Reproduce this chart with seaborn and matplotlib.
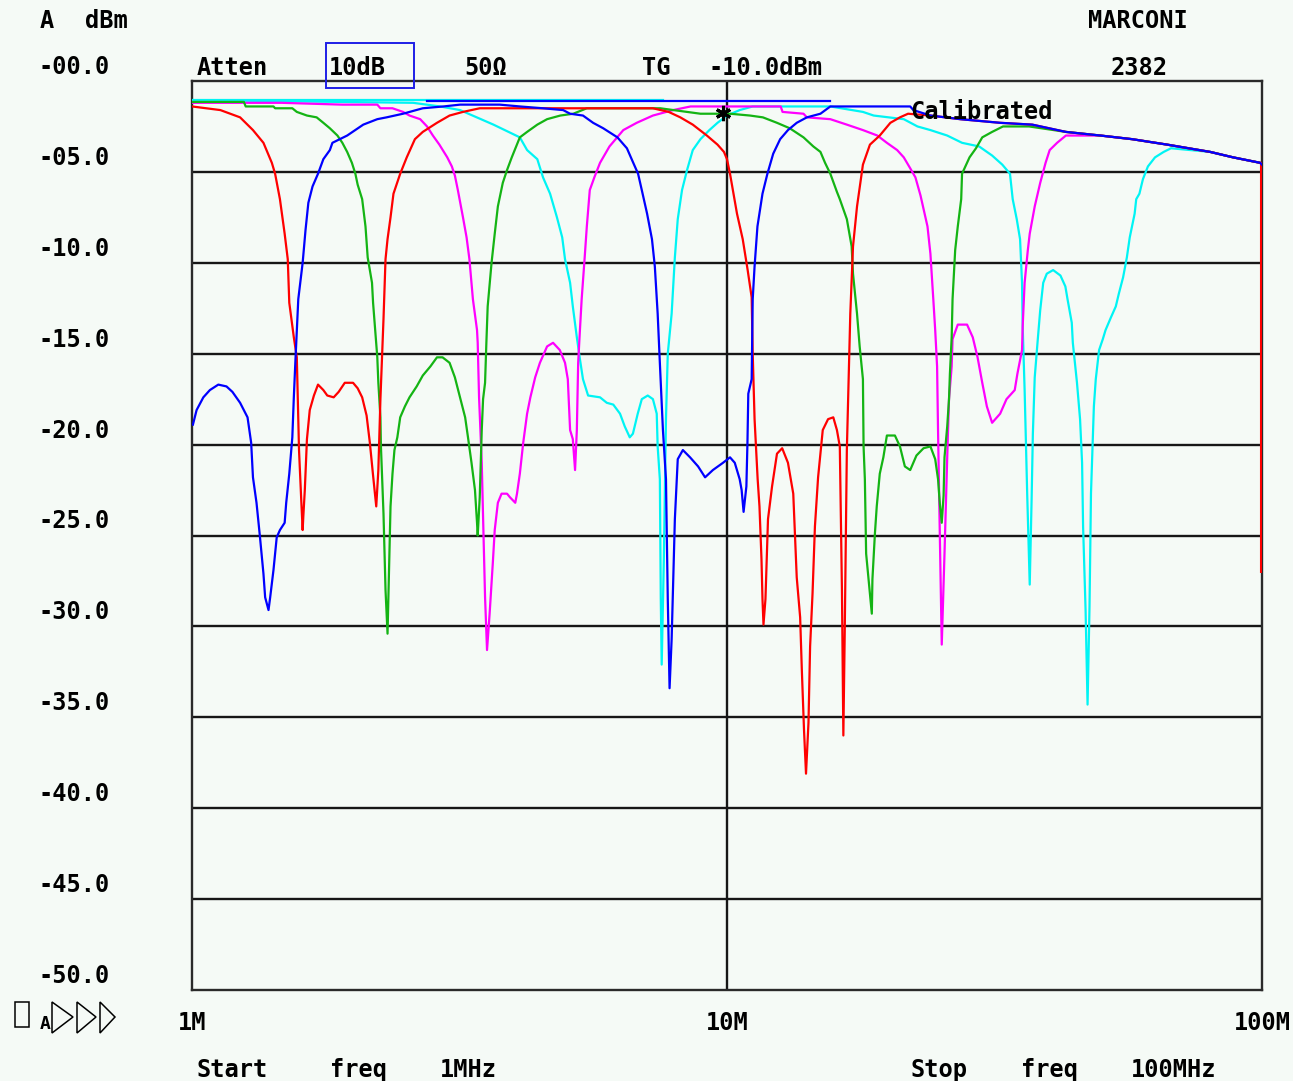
import matplotlib
matplotlib.use("Agg")
import matplotlib.pyplot as plt
from matplotlib import transforms
from matplotlib.patches import Rectangle, Polygon
from matplotlib.ticker import NullLocator
import pandas as pd
import seaborn as sns

W, H = 1293, 1081
BG = "#f5faf6"
INK = "#161616"

# ---------------------------------------------------------------- data
# Frequencies in MHz, levels in dBm (tracking generator at -10 dBm, normalised)

# common high-frequency roll-off of the passband
rolloff_points = [(24.0, -1.9), (27.3, -2.1), (32.4, -2.3), (37.2, -2.4), (43.0, -2.8),
                  (49.9, -3.0), (57.2, -3.2), (66.5, -3.5), (80.0, -3.9), (88.3, -4.2),
                  (99.2, -4.5)]

red_points = [
    (1.00, -1.4), (1.13, -1.6), (1.23, -2.0), (1.30, -2.7), (1.36, -3.4), (1.41, -4.5),
    (1.43, -5.1), (1.46, -6.5), (1.49, -8.4), (1.51, -9.8), (1.52, -12.2), (1.55, -14.1),
    (1.57, -15.2), (1.585, -20.3), (1.60, -23.0), (1.61, -24.7), (1.615, -23.9),
    (1.625, -22.5), (1.64, -19.7), (1.66, -18.1), (1.69, -17.3), (1.72, -16.7),
    (1.76, -17.0), (1.79, -17.3), (1.84, -17.4), (1.88, -17.1), (1.93, -16.6),
    (2.00, -16.6), (2.04, -16.9), (2.08, -17.4), (2.12, -18.4), (2.15, -19.9),
    (2.18, -21.7), (2.21, -23.4), (2.23, -21.4), (2.25, -17.5), (2.28, -13.1),
    (2.30, -9.8), (2.32, -8.7), (2.35, -7.5), (2.38, -6.2), (2.45, -5.1), (2.52, -4.2),
    (2.61, -3.2), (2.70, -2.8), (2.87, -2.3), (3.03, -1.9), (3.21, -1.7), (3.45, -1.5),
    (4.10, -1.5), (5.79, -1.5), (7.27, -1.5), (7.78, -1.7), (8.18, -2.0), (8.63, -2.4),
    (9.17, -3.0), (9.60, -3.5), (9.87, -3.9), (10.0, -4.3), (10.13, -5.1), (10.44, -7.3),
    (10.7, -8.7), (10.93, -10.4), (11.12, -11.9), (11.17, -15.0), (11.26, -18.6),
    (11.41, -21.9), (11.50, -23.4), (11.6, -26.3), (11.65, -28.5), (11.7, -29.9),
    (11.8, -28.5), (11.93, -24.1), (12.14, -22.3), (12.4, -20.5), (12.68, -20.2),
    (13.0, -21.0), (13.3, -22.7), (13.5, -27.3), (13.7, -29.5), (13.8, -32.4),
    (13.93, -35.7), (14.05, -38.1), (14.2, -35.3), (14.3, -31.1), (14.45, -28.2),
    (14.6, -24.5), (14.8, -21.8), (15.1, -19.2), (15.45, -18.6), (15.8, -18.5),
    (16.05, -19.2), (16.25, -20.1), (16.4, -28.0), (16.5, -36.0), (16.6, -30.2),
    (16.75, -20.3), (17.0, -12.8), (17.2, -9.1), (17.5, -6.9), (17.95, -4.6),
    (18.5, -3.5), (19.3, -3.0), (20.2, -2.3), (21.05, -2.0), (21.8, -1.8)]
red_tail = [(99.6, -4.5), (99.6, -27.0)]

blue_points = [
    (1.004, -18.9), (1.02, -18.1), (1.05, -17.4), (1.08, -17.0), (1.12, -16.7),
    (1.16, -16.8), (1.19, -17.1), (1.23, -17.7), (1.27, -18.5), (1.29, -19.9),
    (1.30, -21.8), (1.32, -23.2), (1.34, -25.1), (1.36, -27.1), (1.37, -28.4),
    (1.39, -29.1), (1.40, -28.4), (1.42, -26.9), (1.44, -25.1), (1.46, -24.7),
    (1.49, -24.3), (1.50, -23.2), (1.52, -21.6), (1.54, -19.6), (1.55, -17.4),
    (1.56, -15.5), (1.58, -12.0), (1.61, -10.0), (1.63, -8.2), (1.65, -6.7), (1.68, -5.8),
    (1.72, -5.1), (1.76, -4.3), (1.81, -3.8), (1.83, -3.4), (1.95, -3.0), (2.09, -2.4),
    (2.22, -2.1), (2.31, -2.0), (2.48, -1.8), (2.70, -1.5), (2.95, -1.4), (3.17, -1.3),
    (3.76, -1.3), (4.10, -1.4), (4.53, -1.5), (4.94, -1.6), (5.09, -1.8), (5.38, -1.9),
    (5.62, -2.3), (5.87, -2.6), (6.24, -3.1), (6.50, -3.7), (6.68, -4.5), (6.82, -5.1),
    (6.93, -6.0), (7.09, -7.3), (7.24, -8.7), (7.33, -10.2), (7.42, -12.8), (7.49, -15.5),
    (7.59, -19.2), (7.69, -21.9), (7.75, -28.5), (7.81, -33.4), (7.88, -30.7),
    (7.99, -24.1), (8.09, -20.8), (8.27, -20.3), (8.53, -20.7), (8.83, -21.2),
    (9.10, -21.8), (9.41, -21.4), (9.83, -21.0), (10.13, -20.7), (10.34, -21.0),
    (10.56, -21.9), (10.65, -22.5), (10.74, -23.7), (10.87, -22.3), (10.92, -19.9),
    (10.96, -17.2), (11.12, -16.4), (11.17, -12.0), (11.26, -10.2), (11.4, -8.0),
    (11.65, -6.2), (11.9, -5.1), (12.2, -4.0), (12.57, -3.2), (13.0, -2.7), (13.5, -2.3),
    (14.1, -2.0), (14.95, -1.8), (15.6, -1.4), (22.0, -1.4), (22.3, -1.6)]

green_points = [
    (1.00, -1.15), (1.25, -1.15), (1.26, -1.4), (1.42, -1.4), (1.43, -1.5), (1.54, -1.5),
    (1.57, -1.7), (1.64, -1.9), (1.71, -2.0), (1.76, -2.3), (1.81, -2.6), (1.87, -3.0),
    (1.91, -3.4), (1.95, -3.9), (1.99, -4.5), (2.02, -5.1), (2.04, -5.7), (2.08, -6.5),
    (2.11, -8.0), (2.13, -9.7), (2.17, -11.1), (2.18, -12.2), (2.20, -13.7), (2.22, -15.2),
    (2.23, -16.6), (2.25, -18.5), (2.255, -20.1), (2.28, -23.8), (2.30, -28.0),
    (2.32, -30.4), (2.34, -25.8), (2.35, -23.4), (2.37, -21.6), (2.39, -20.3),
    (2.42, -19.6), (2.45, -18.5), (2.50, -17.9), (2.55, -17.4), (2.63, -16.8),
    (2.70, -16.2), (2.79, -15.7), (2.87, -15.2), (2.94, -15.2), (3.03, -15.5),
    (3.10, -16.3), (3.17, -17.4), (3.24, -18.5), (3.28, -19.6), (3.33, -21.0),
    (3.38, -22.5), (3.41, -24.3), (3.42, -25.0), (3.45, -22.9), (3.48, -19.2),
    (3.50, -17.5), (3.53, -16.6), (3.55, -14.4), (3.57, -12.4), (3.63, -10.0),
    (3.68, -8.4), (3.73, -6.9), (3.81, -5.6), (3.88, -4.9), (3.96, -4.2), (4.10, -3.1),
    (4.23, -2.8), (4.42, -2.4), (4.61, -2.1), (4.88, -1.9), (5.16, -1.8), (5.47, -1.5),
    (7.50, -1.5), (8.92, -1.8), (10.13, -1.8), (11.04, -1.9), (11.67, -2.0), (12.4, -2.3),
    (13.1, -2.6), (13.9, -3.1), (14.5, -3.6), (14.95, -3.9), (15.25, -4.5), (15.6, -5.1),
    (16.05, -6.1), (16.25, -6.5), (16.75, -7.6), (17.1, -9.1), (17.2, -10.6),
    (17.5, -12.8), (17.7, -14.6), (17.95, -16.4), (18.0, -20.1), (18.1, -21.9),
    (18.2, -26.0), (18.5, -28.2), (18.65, -29.3), (18.7, -27.4), (18.9, -24.9),
    (19.05, -23.4), (19.3, -21.6), (19.6, -20.7), (19.9, -19.5), (20.6, -19.5),
    (21.05, -20.1), (21.5, -21.2), (22.0, -21.4), (22.6, -20.6), (23.3, -20.2),
    (24.0, -20.1), (24.5, -20.8), (24.8, -21.9), (25.0, -23.3), (25.2, -24.3),
    (25.4, -22.8), (25.5, -20.7), (25.8, -19.0), (26.0, -17.5), (26.1, -16.1),
    (26.3, -14.1), (26.4, -12.0), (26.7, -9.3), (27.0, -8.0), (27.4, -6.5), (27.5, -5.1),
    (28.4, -4.2), (29.2, -3.7), (30.0, -3.1), (31.3, -2.8), (32.8, -2.5), (36.7, -2.5)]

magenta_points = [
    (1.00, -1.2), (1.47, -1.2), (1.91, -1.3), (2.22, -1.3), (2.25, -1.5), (2.37, -1.5),
    (2.48, -1.7), (2.55, -1.9), (2.67, -2.1), (2.75, -2.5), (2.82, -3.0), (2.90, -3.5),
    (3.00, -4.2), (3.06, -4.7), (3.10, -5.2), (3.14, -6.0), (3.21, -7.5), (3.26, -8.6),
    (3.30, -9.8), (3.35, -12.0), (3.41, -13.7), (3.42, -14.4), (3.44, -17.4),
    (3.48, -21.0), (3.50, -24.0), (3.53, -28.4), (3.56, -31.3), (3.60, -29.3),
    (3.65, -26.5), (3.68, -24.7), (3.73, -23.2), (3.79, -22.7), (3.88, -22.7),
    (3.93, -22.9), (4.02, -23.2), (4.05, -22.7), (4.10, -21.6), (4.16, -19.9),
    (4.23, -18.3), (4.29, -17.4), (4.38, -16.3), (4.47, -15.5), (4.61, -14.6),
    (4.73, -14.4), (4.87, -14.8), (4.98, -15.5), (5.04, -16.4), (5.09, -19.2),
    (5.15, -19.7), (5.20, -21.4), (5.24, -19.2), (5.27, -15.5), (5.31, -13.7),
    (5.35, -12.0), (5.42, -9.7), (5.47, -8.0), (5.54, -6.0), (5.65, -5.3), (5.79, -4.5),
    (6.03, -3.6), (6.40, -2.7), (6.78, -2.3), (7.27, -1.9), (7.93, -1.6), (8.55, -1.4),
    (12.6, -1.4), (12.7, -1.7), (13.9, -1.8), (14.1, -2.0), (15.6, -2.1), (16.75, -2.4),
    (17.95, -2.7), (19.1, -3.0), (19.9, -3.4), (20.8, -3.8), (21.4, -4.2), (22.0, -4.8),
    (22.5, -5.3), (23.0, -6.3), (23.7, -8.0), (24.0, -9.5), (24.3, -12.0), (24.5, -13.7),
    (24.7, -15.7), (24.8, -19.2), (25.0, -25.2), (25.2, -31.0), (25.5, -26.0),
    (25.8, -20.7), (26.0, -17.5), (26.3, -15.7), (26.4, -14.2), (27.0, -13.4),
    (28.1, -13.4), (28.8, -14.1), (29.4, -15.2), (30.0, -16.6), (30.6, -17.9),
    (31.3, -18.8), (32.4, -18.3), (33.3, -17.5), (34.5, -17.0), (34.9, -16.1),
    (35.6, -14.8), (35.7, -13.5), (36.0, -11.1), (36.5, -9.3), (36.8, -8.4),
    (37.6, -6.9), (38.5, -5.6), (39.4, -4.5), (40.1, -3.8), (41.4, -3.4), (43.0, -3.0)]

cyan_points = [
    (1.00, -1.05), (2.59, -1.2), (2.91, -1.4), (3.17, -1.6), (3.66, -2.4), (4.10, -3.1),
    (4.23, -3.8), (4.42, -4.3), (4.53, -5.3), (4.67, -6.2), (4.81, -7.5), (4.92, -8.6),
    (4.98, -9.8), (5.09, -11.1), (5.15, -12.4), (5.24, -14.1), (5.31, -15.3),
    (5.38, -16.4), (5.50, -17.3), (5.79, -17.4), (5.96, -17.7), (6.13, -17.8),
    (6.31, -18.3), (6.44, -19.0), (6.58, -19.6), (6.67, -19.4), (6.81, -18.3),
    (6.93, -17.5), (7.11, -17.3), (7.27, -17.5), (7.39, -18.3), (7.42, -20.1),
    (7.49, -21.9), (7.52, -28.5), (7.55, -32.1), (7.62, -26.3), (7.69, -18.6),
    (7.75, -15.0), (7.88, -12.8), (7.99, -9.7), (8.09, -7.6), (8.24, -6.0), (8.42, -4.9),
    (8.63, -3.8), (8.92, -3.2), (9.27, -2.7), (9.60, -2.3), (10.0, -1.9), (10.56, -1.6),
    (11.17, -1.4), (15.6, -1.4), (17.95, -1.7), (18.8, -1.9), (21.4, -2.1), (22.7, -2.5),
    (24.0, -2.7), (25.8, -3.0), (27.5, -3.4), (29.6, -3.6), (31.3, -4.1), (32.7, -4.6),
    (33.8, -5.1), (34.2, -6.5), (34.8, -7.6), (35.3, -8.7), (35.6, -11.1), (35.7, -13.5),
    (36.0, -17.0), (36.4, -22.7), (36.8, -27.7), (37.1, -23.0), (37.3, -19.4),
    (37.6, -16.3), (38.1, -14.2), (38.5, -12.6), (39.0, -11.1), (39.6, -10.6),
    (40.7, -10.4), (42.0, -10.7), (42.9, -11.3), (43.3, -12.0), (44.1, -13.3),
    (44.3, -14.4), (45.1, -16.6), (45.7, -18.6), (46.1, -21.0), (46.3, -24.5),
    (46.8, -29.1), (47.2, -34.3), (47.6, -28.9), (47.9, -22.7), (48.5, -17.9),
    (48.9, -16.4), (49.6, -14.8), (50.4, -14.2), (51.0, -13.7), (52.2, -13.0),
    (53.3, -12.4), (54.0, -11.7), (55.0, -10.8), (55.9, -9.7), (56.6, -8.6),
    (57.8, -7.3), (58.2, -6.5), (59.0, -6.2), (59.9, -5.4), (61.2, -4.7), (63.1, -4.2),
    (65.5, -3.9), (67.6, -3.7)]

# stored reference (through-calibration) lines near the top of the screen
cyan_ref_points = [(1.00, -1.05), (7.60, -1.05)]
blue_ref_points = [(2.75, -1.1), (15.6, -1.1)]

# marker position
marker_freq = [9.83]
marker_level = [-1.75]

grid_levels = [-5, -10, -15, -20, -25, -30, -35, -40, -45]
ylabels = ["-00.0", "-05.0", "-10.0", "-15.0", "-20.0", "-25.0",
           "-30.0", "-35.0", "-40.0", "-45.0", "-50.0"]
ylabel_levels = [0, -5, -10, -15, -20, -25, -30, -35, -40, -45, -50]
xtick_freqs = [1, 10, 100]
xtick_labels = ["1M", "10M", "100M"]

palette = {"cyan": "#00f4f4", "magenta": "#ff00ff", "green": "#14b414",
           "red": "#ff0000", "blue": "#0000ff"}
order = ["cyan", "magenta", "green", "red", "blue"]

# ---------------------------------------------------------------- table
segments = [
    ("cyan", "ref", cyan_ref_points),
    ("blue", "ref", blue_ref_points),
    ("cyan", "main", cyan_points + [p for p in rolloff_points if p[0] >= 80.0] + [(100.0, -4.6)]),
    ("magenta", "main", magenta_points + [p for p in rolloff_points if p[0] >= 49.9] + [(100.0, -4.6)]),
    ("green", "main", green_points + [p for p in rolloff_points if p[0] >= 43.0] + [(100.0, -4.6)]),
    ("red", "main", red_points + rolloff_points + red_tail),
    ("blue", "main", blue_points + rolloff_points + [(100.0, -4.6)]),
]
rows = []
for trace, seg, pts in segments:
    for f, lv in pts:
        rows.append({"trace": trace, "segment": seg, "freq": f, "level": lv})
df = pd.DataFrame(rows)

# ---------------------------------------------------------------- figure
fig = plt.figure(figsize=(W / 100, H / 100), dpi=100, facecolor=BG)
ax = fig.add_axes([192 / W, 1 - 990 / H, 1070 / W, 909 / H])
ax.set_facecolor(BG)

for lv in grid_levels:
    ax.axhline(lv, color=INK, lw=1.7, zorder=1)
ax.axvline(10, color=INK, lw=1.7, zorder=1)

sns.lineplot(data=df, x="freq", y="level", hue="trace", units="segment",
             estimator=None, sort=False, palette=palette, hue_order=order,
             linewidth=1.6, legend=False, ax=ax, zorder=3)

ax.plot(marker_freq, marker_level, linestyle="none", marker=(6, 2, 0),
        markersize=11, markeredgewidth=2.2, color="black", zorder=5)

ax.set_xscale("log")
ax.set_xlim(1, 100)
ax.set_ylim(-50, 0)
ax.set_xticks([])
ax.set_yticks([])
ax.xaxis.set_minor_locator(NullLocator())
ax.yaxis.set_minor_locator(NullLocator())
ax.set_xlabel("")
ax.set_ylabel("")
for sp in ax.spines.values():
    sp.set_color("#2a2a2a")
    sp.set_linewidth(1.7)

FONT = dict(fontfamily="DejaVu Sans Mono", fontweight="bold", fontsize=17, color="black")


def ptext(x, y, s, **kw):
    opts = dict(FONT)
    opts.update(kw)
    fig.text(x / W, 1 - y / H, s, ha=opts.pop("ha", "left"), va="baseline", **opts)


# level scale labels, sitting just above their grid lines
ytrans = transforms.blended_transform_factory(fig.transFigure, ax.transData) + \
    transforms.ScaledTranslation(0, 7 / 100, fig.dpi_scale_trans)
for lv, lab in zip(ylabel_levels, ylabels):
    ax.text(38 / W, lv, lab, transform=ytrans, ha="left", va="baseline", clip_on=False, **FONT)

# frequency labels under the graticule
xtrans = transforms.blended_transform_factory(ax.transData, fig.transFigure)
for f, lab in zip(xtick_freqs, xtick_labels):
    ax.text(f, 1 - 1030 / H, lab, transform=xtrans, ha="center", va="baseline",
            clip_on=False, **FONT)

# header
ptext(40, 28, "A")
ptext(85, 28, "dBm")
ptext(1088, 28, "MARCONI")
ptext(197, 75, "Atten")
ptext(329, 75, "10dB")
ptext(464, 75, "50Ω")
ptext(642, 75, "TG")
ptext(708, 75, "-10.0dBm")
ptext(1111, 75, "2382")
ptext(910, 119, "Calibrated")

# footer
ptext(197, 1077, "Start")
ptext(330, 1077, "freq")
ptext(440, 1077, "1MHz")
ptext(910, 1077, "Stop")
ptext(1021, 1077, "freq")
ptext(1131, 1077, "100MHz")

# highlight box around the active setting
fig.add_artist(Rectangle((326 / W, 1 - 88 / H), 88 / W, 45 / H, transform=fig.transFigure,
                         fill=False, edgecolor="#1f1fe6", linewidth=1.4))

# softkey indicator icons, bottom left
fig.add_artist(Rectangle((15 / W, 1 - 1027 / H), 14 / W, 25 / H, transform=fig.transFigure,
                         fill=False, edgecolor="black", linewidth=1.1))
ptext(40, 1029, "A", fontsize=13)
for x0, x1 in [(52, 73), (77, 96), (100, 115)]:
    tri = [(x0 / W, 1 - 1002 / H), (x1 / W, 1 - 1017 / H), (x0 / W, 1 - 1033 / H)]
    fig.add_artist(Polygon(tri, closed=True, transform=fig.transFigure, fill=False,
                           edgecolor="black", linewidth=1.1))

fig.savefig("out.png", dpi=100, facecolor=BG)
